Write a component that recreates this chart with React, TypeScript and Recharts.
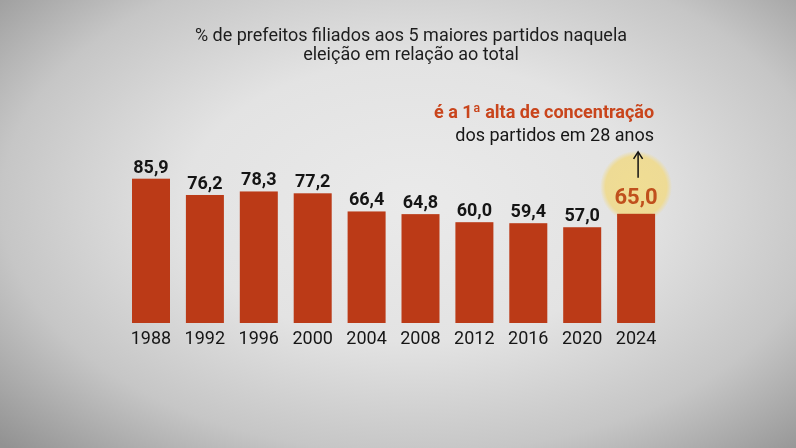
import React from "react";
import { BarChart, Bar, XAxis, YAxis, LabelList } from "recharts";

const years = ["1988", "1992", "1996", "2000", "2004", "2008", "2012", "2016", "2020", "2024"];
const shares = [85.9, 76.2, 78.3, 77.2, 66.4, 64.8, 60.0, 59.4, 57.0, 65.0];
const titleLines = ["% de prefeitos filiados aos 5 maiores partidos naquela", "eleição em relação ao total"];
const noteLines = ["é a 1ª alta de concentração", "dos partidos em 28 anos"];

const BAR = "#bb3a17";
const HIGHLIGHT = "#c0501d";
const FONT = "Roboto, 'Noto Sans', sans-serif";

const fmt = (v: number) => v.toFixed(1).replace(".", ",");

// highlighted bar gets a soft yellow disc drawn behind it
function BarShape(props: any) {
  const { x, y, width, height, index } = props;
  const last = index === years.length - 1;
  return (
    <g>
      {last && (
        <circle cx={x + width / 2} cy={y - 27} r={36} fill="url(#glow)" />
      )}
      <rect x={x} y={y} width={width} height={height} fill={BAR} />
    </g>
  );
}

function ValueLabel(props: any) {
  const { x, y, width, value, index } = props;
  const cx = x + width / 2;
  if (index !== years.length - 1) {
    return (
      <text x={cx} y={y - 6} textAnchor="middle" fontFamily={FONT} fontWeight={700} fontSize={18} fill="#151515">
        {fmt(value)}
      </text>
    );
  }
  const right = x + width - 1;
  return (
    <g>
      <text x={cx} y={y - 10} textAnchor="middle" fontFamily={FONT} fontWeight={700} fontSize={22} fill={HIGHLIGHT}>
        {fmt(value)}
      </text>
      <line x1={cx + 2} y1={y - 36} x2={cx + 2} y2={y - 61} stroke="#111" strokeWidth={1.5} />
      <path d={`M ${cx - 2.5} ${y - 55} L ${cx + 2} ${y - 62} L ${cx + 6.5} ${y - 55}`} fill="none" stroke="#111" strokeWidth={1.5} />
      <text x={right} y={y - 96} textAnchor="end" fontFamily={FONT} fontWeight={700} fontSize={18} fill="#c9451c">
        {noteLines[0]}
      </text>
      <text x={right} y={y - 73} textAnchor="end" fontFamily={FONT} fontSize={18} fill="#161616">
        {noteLines[1]}
      </text>
    </g>
  );
}

export default function App() {
  const data = years.map((year, i) => ({ year, share: shares[i] }));

  return (
    <div
      style={{
        position: "fixed",
        left: 0,
        top: 0,
        width: 796,
        height: 448,
        background:
          "radial-gradient(ellipse 72% 78% at 52% 45%, #eaeaea 0%, #e3e3e3 40%, #c6c6c6 72%, #929292 100%)",
        fontFamily: FONT,
      }}
    >
      <div
        style={{
          position: "absolute",
          left: 0,
          width: 822,
          top: 25,
          textAlign: "center",
          fontSize: 18,
          lineHeight: "19px",
          color: "#1d1d1d",
        }}
      >
        {titleLines.map((t) => (
          <div key={t}>{t}</div>
        ))}
      </div>
      <div style={{ position: "absolute", left: 0, top: 0 }}>
        <BarChart width={796} height={448} data={data} margin={{ top: 155, right: 133, bottom: 95, left: 124 }}>
          <defs>
            <radialGradient id="glow">
              <stop offset="0%" stopColor="#f0dd93" />
              <stop offset="85%" stopColor="#eedb95" />
              <stop offset="100%" stopColor="#eedb95" stopOpacity={0} />
            </radialGradient>
          </defs>
          <XAxis
            dataKey="year"
            axisLine={false}
            tickLine={false}
            interval={0}
            tick={{ fontSize: 18, fill: "#161616", fontFamily: FONT }}
          />
          <YAxis hide domain={[0, 100]} />
          <Bar dataKey="share" barSize={38} shape={<BarShape />} isAnimationActive={false}>
            <LabelList dataKey="share" content={<ValueLabel />} />
          </Bar>
        </BarChart>
      </div>
    </div>
  );
}
